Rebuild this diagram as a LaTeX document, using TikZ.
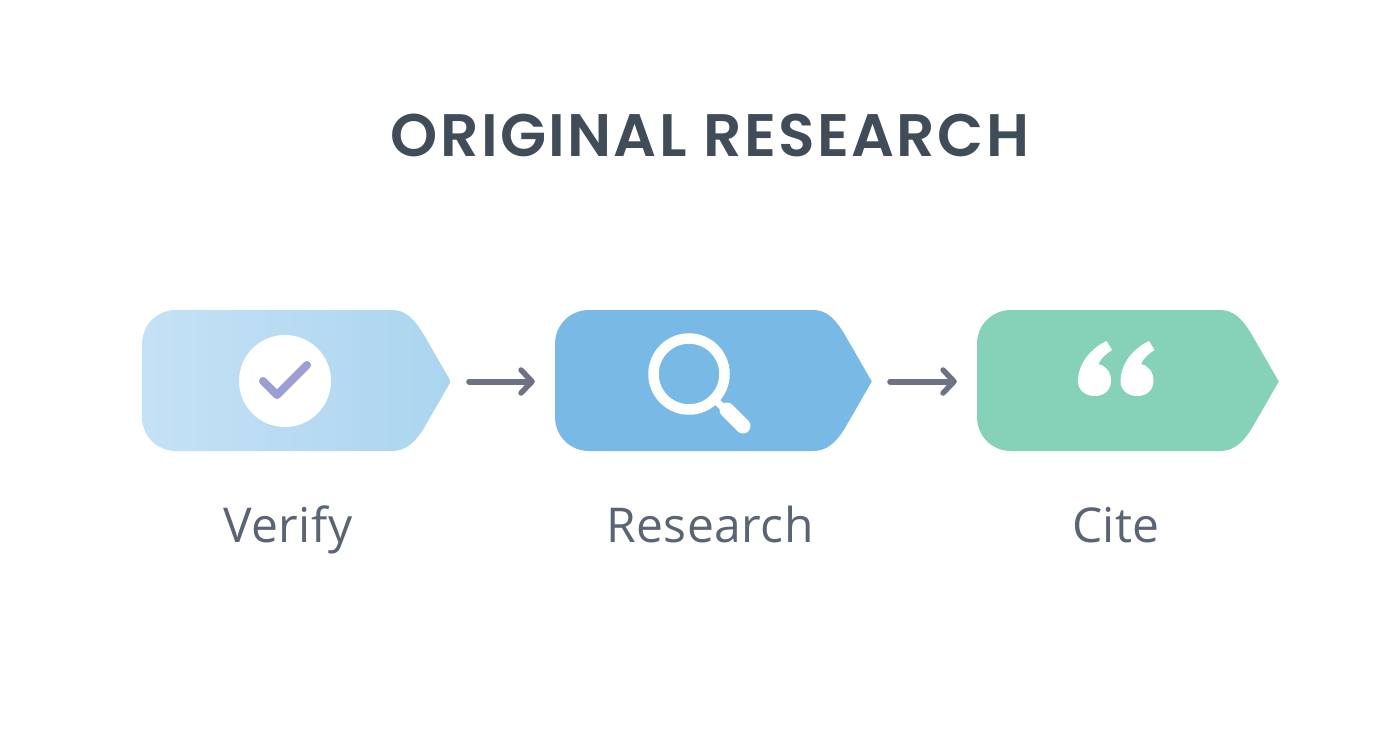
\documentclass[tikz,border=0pt]{standalone}
\usepackage{fontspec}
\setmainfont{Open Sans}
\newfontfamily\titlefont{Poppins SemiBold}[LetterSpace=3.9]
\newfontfamily\labelfont{Open Sans}[LetterSpace=1.0]
\usetikzlibrary{arrows.meta}
\definecolor{inkdark}{HTML}{414C59}
\definecolor{inklabel}{HTML}{5A6472}
\definecolor{arrowgrey}{HTML}{6F7282}
\definecolor{checkviolet}{HTML}{9C9DD3}
\definecolor{lightL}{HTML}{C5E1F6}
\definecolor{lightR}{HTML}{ABD5EF}
\definecolor{midblue}{HTML}{78B9E5}
\definecolor{mint}{HTML}{86D2B8}
\newcommand{\tagpath}[2]{(#1,344) .. controls (#1,325) and (#1+15,310) .. (#1+34,310) -- (#2-59,310) .. controls (#2-46,310) and (#2-37,318) .. (#2-27,335) -- (#2-0.5,381) -- (#2-0.5,382) -- (#2-27,428) .. controls (#2-37,444) and (#2-46,451) .. (#2-59,451) -- (#1+34,451) .. controls (#1+15,451) and (#1,436) .. (#1,417) -- cycle}
\newcommand{\quotemark}[1]{(#1+1106.5,341) .. controls (#1+1088,350) and (#1+1078,366) .. (#1+1078,381) .. controls (#1+1078,390) and (#1+1085,396) .. (#1+1095,396) .. controls (#1+1104,396) and (#1+1111,390) .. (#1+1111,381) .. controls (#1+1111,372) and (#1+1106,366) .. (#1+1098.5,364) .. controls (#1+1101,358) and (#1+1106,354) .. (#1+1112,350) -- cycle}
\tikzset{
  anchorbox/.style={inner sep=0pt,minimum height=141pt,draw=none,fill=none},
  flowarrow/.style={draw=arrowgrey,line width=6pt,line cap=round,-{Straight Barb[length=11pt,width=23pt,line width=5.5pt,round]}},
  steplabel/.style={font=\labelfont\fontsize{48}{52}\selectfont,text=inklabel,anchor=base},
  titletext/.style={font=\titlefont\fontsize{60}{66}\selectfont,text=inkdark,anchor=base},
}
\begin{document}
\begin{tikzpicture}[x=1pt,y=-1pt]
\useasboundingbox (0,0) rectangle (1392,752);
\node[titletext] (title) at (710,156) {ORIGINAL RESEARCH};
% tags
\path[left color=lightL,right color=lightR] \tagpath{142}{451};
\path[fill=midblue] \tagpath{555}{872};
\path[fill=mint] \tagpath{977}{1279};
\node[anchorbox,minimum width=309pt] (verify) at (296.5,381.5) {};
\node[anchorbox,minimum width=317pt] (research) at (713.5,381.5) {};
\node[anchorbox,minimum width=302pt] (cite) at (1128,381.5) {};
% check icon
\fill[white] (285,381) circle (46);
\draw[checkviolet,line width=8pt,line cap=round,line join=round] (263,381) -- (277,395) -- (307,365);
% magnifier
\draw[white,line width=10.5pt] (689,374) circle (35.5);
\draw[white,line width=7pt] (715,400) -- (728,412);
\draw[white,line width=15pt,line cap=round] (727,410) -- (743,426);
% quotes
\fill[white] \quotemark{0};
\fill[white] \quotemark{42.5};
% connectors
\draw[flowarrow,shorten <=18pt,shorten >=20pt] (verify.east) -- (research.west);
\draw[flowarrow,shorten <=18pt,shorten >=20pt] (research.east) -- (cite.west);
% labels
\node[steplabel] (lverify) at (288,542) {Verify};
\node[steplabel] (lresearch) at (710,542) {Research};
\node[steplabel] (lcite) at (1116,542) {Cite};
\end{tikzpicture}
\end{document}
